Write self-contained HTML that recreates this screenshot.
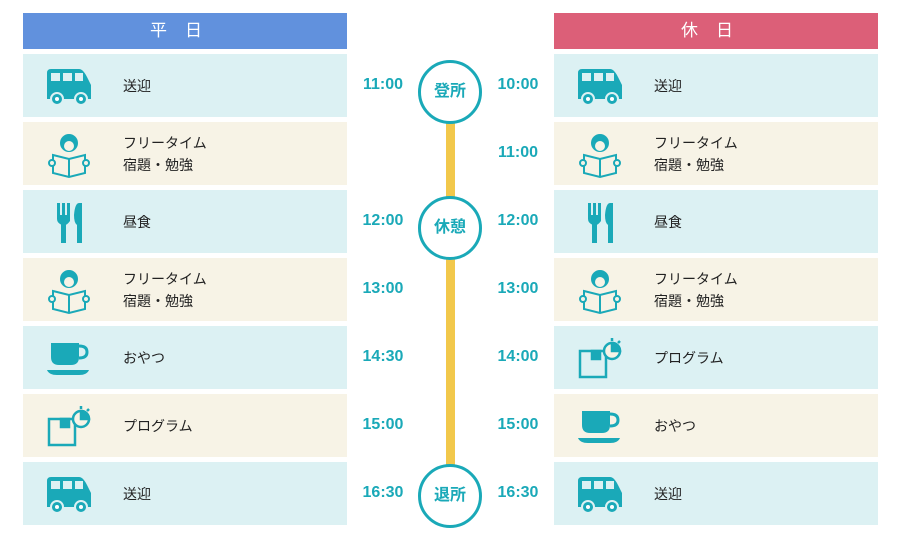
<!DOCTYPE html>
<html><head><meta charset="utf-8"><style>
body{margin:0;width:900px;height:539px;background:#fff;position:relative;overflow:hidden;font-family:"Liberation Sans","Noto Sans CJK JP",sans-serif}
.h{position:absolute;top:13px;height:36px;width:324px;color:#fff;font-size:17px;text-align:center;line-height:36px;letter-spacing:18px}
.r{position:absolute;width:324px;height:63px}
.c{background:#dcf1f3}.b{background:#f7f3e6}
.r svg{position:absolute;left:22px;top:11px}
.t{position:absolute;left:100px;top:0;height:63px;display:flex;flex-direction:column;justify-content:center;font-size:14px;color:#222;line-height:22px}
.tm{position:absolute;color:#1aa9b8;font-weight:bold;font-size:16px;width:60px;text-align:center}
.ci{position:absolute;left:418px;width:58px;height:58px;border:3px solid #1aa9b8;border-radius:50%;background:#fff;color:#1aa9b8;font-weight:bold;font-size:16px;text-align:center;line-height:58px}
</style></head><body>
<svg width="0" height="0" style="position:absolute"><defs>
<g id="bus"><path d="M2 8 Q2 4 6 4 H34 Q38 4 42 12 L46 20 V34 H2Z" fill="#1aa9b8"/><rect x="6" y="8" width="9" height="8" fill="#dcf1f3"/><rect x="18" y="8" width="9" height="8" fill="#dcf1f3"/><rect x="30" y="8" width="8" height="8" fill="#dcf1f3"/><circle cx="12" cy="34" r="6" fill="#1aa9b8" stroke="#dcf1f3" stroke-width="2"/><circle cx="12" cy="34" r="2" fill="#fff"/><circle cx="36" cy="34" r="6" fill="#1aa9b8" stroke="#dcf1f3" stroke-width="2"/><circle cx="36" cy="34" r="2" fill="#fff"/></g>
<g id="read" fill="none" stroke="#1aa9b8" stroke-width="2"><circle cx="24" cy="10" r="8" fill="#1aa9b8"/><circle cx="24" cy="13" r="5" fill="#f7f3e6" stroke="none"/><path d="M8 22 L24 26 L40 22 V40 L24 44 L8 40Z" fill="#f7f3e6"/><path d="M24 26V44"/><circle cx="7" cy="30" r="3" fill="#f7f3e6"/><circle cx="41" cy="30" r="3" fill="#f7f3e6"/></g>
<g id="fork" fill="#1aa9b8"><rect x="12" y="2" width="3" height="14"/><rect x="17" y="2" width="3" height="14"/><rect x="22" y="2" width="3" height="14"/><path d="M12 14H25V20Q22 24 20 24H17Q12 22 12 18Z"/><rect x="16" y="22" width="5" height="20"/><path d="M34 2 Q30 2 29 14 Q29 22 32 24 V42 H37 V2Z"/></g>
<g id="cup" fill="#1aa9b8"><path d="M6 6H34V20Q34 28 26 28H14Q6 28 6 20Z"/><path d="M34 9 Q42 9 42 15 Q42 21 34 21" fill="none" stroke="#1aa9b8" stroke-width="3"/><path d="M2 33H44Q42 38 34 38H12Q4 38 2 33Z"/></g>
<g id="prog" fill="none" stroke="#1aa9b8" stroke-width="2.5"><path d="M4 14H30V40H4Z"/><rect x="16" y="14" width="8" height="8" fill="#1aa9b8"/><circle cx="36" cy="14" r="8" fill="#f7f3e6"/><path d="M36 14V6A8 8 0 0 1 44 14Z" fill="#1aa9b8"/><path d="M36 4V1M42 6l2-2"/></g>
</defs></svg>
<div class="h" style="left:23px;background:#6191dd">平日</div>
<div class="h" style="left:554px;background:#dc5f78">休日</div>
<div style="position:absolute;left:446px;top:100px;width:9px;height:390px;background:#f2c84b"></div>
<div class="ci" style="top:60px">登所</div>
<div class="ci" style="top:196px">休憩</div>
<div class="ci" style="top:464px">退所</div>

<div class="r c" style="left:23px;top:54px"><svg width="50" height="42"><use href="#bus"/></svg><div class="t">送迎</div></div>
<div class="r b" style="left:23px;top:122px"><svg width="50" height="46"><use href="#read"/></svg><div class="t"><span>フリータイム</span><span>宿題・勉強</span></div></div>
<div class="r c" style="left:23px;top:190px"><svg width="50" height="46"><use href="#fork"/></svg><div class="t">昼食</div></div>
<div class="r b" style="left:23px;top:258px"><svg width="50" height="46"><use href="#read"/></svg><div class="t"><span>フリータイム</span><span>宿題・勉強</span></div></div>
<div class="r c" style="left:23px;top:326px"><svg width="50" height="46"><use href="#cup"/></svg><div class="t">おやつ</div></div>
<div class="r b" style="left:23px;top:394px"><svg width="50" height="46"><use href="#prog"/></svg><div class="t">プログラム</div></div>
<div class="r c" style="left:23px;top:462px"><svg width="50" height="42"><use href="#bus"/></svg><div class="t">送迎</div></div>

<div class="r c" style="left:554px;top:54px"><svg width="50" height="42"><use href="#bus"/></svg><div class="t">送迎</div></div>
<div class="r b" style="left:554px;top:122px"><svg width="50" height="46"><use href="#read"/></svg><div class="t"><span>フリータイム</span><span>宿題・勉強</span></div></div>
<div class="r c" style="left:554px;top:190px"><svg width="50" height="46"><use href="#fork"/></svg><div class="t">昼食</div></div>
<div class="r b" style="left:554px;top:258px"><svg width="50" height="46"><use href="#read"/></svg><div class="t"><span>フリータイム</span><span>宿題・勉強</span></div></div>
<div class="r c" style="left:554px;top:326px"><svg width="50" height="46"><use href="#prog"/></svg><div class="t">プログラム</div></div>
<div class="r b" style="left:554px;top:394px"><svg width="50" height="46"><use href="#cup"/></svg><div class="t">おやつ</div></div>
<div class="r c" style="left:554px;top:462px"><svg width="50" height="42"><use href="#bus"/></svg><div class="t">送迎</div></div>

<div class="tm" style="left:353px;top:76px">11:00</div>
<div class="tm" style="left:353px;top:212px">12:00</div>
<div class="tm" style="left:353px;top:280px">13:00</div>
<div class="tm" style="left:353px;top:348px">14:30</div>
<div class="tm" style="left:353px;top:416px">15:00</div>
<div class="tm" style="left:353px;top:484px">16:30</div>
<div class="tm" style="left:488px;top:76px">10:00</div>
<div class="tm" style="left:488px;top:144px">11:00</div>
<div class="tm" style="left:488px;top:212px">12:00</div>
<div class="tm" style="left:488px;top:280px">13:00</div>
<div class="tm" style="left:488px;top:348px">14:00</div>
<div class="tm" style="left:488px;top:416px">15:00</div>
<div class="tm" style="left:488px;top:484px">16:30</div>
</body></html>
